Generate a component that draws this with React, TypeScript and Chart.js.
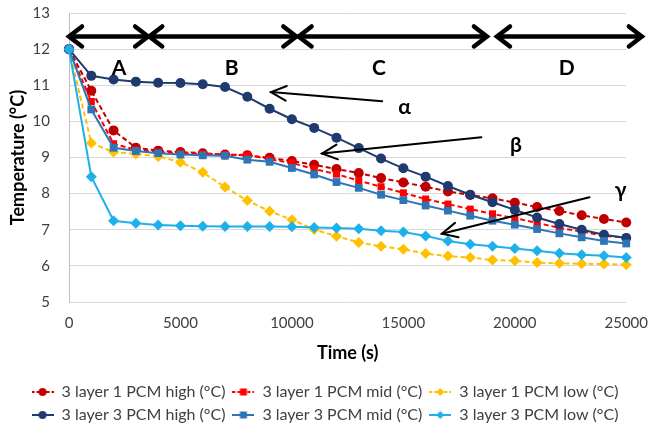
import { useEffect, useRef } from "react";
import { Chart, registerables } from "chart.js";

Chart.register(...registerables);

// Sample times (s)
const timeSeconds = [
  0, 1000, 2000, 3000, 4000, 5000, 6000, 7000, 8000, 9000, 10000, 11000, 12000,
  13000, 14000, 15000, 16000, 17000, 18000, 19000, 20000, 21000, 22000, 23000,
  24000, 25000,
];

// Temperatures (°C)
const oneLayerHigh = [
  12, 10.85, 9.75, 9.27, 9.19, 9.15, 9.12, 9.08, 9.06, 8.99, 8.9, 8.8, 8.68,
  8.57, 8.43, 8.31, 8.19, 8.06, 7.96, 7.87, 7.75, 7.63, 7.52, 7.4, 7.3, 7.2,
];
const oneLayerMid = [
  12, 10.55, 9.38, 9.21, 9.15, 9.12, 9.1, 9.08, 9.07, 8.95, 8.85, 8.68, 8.54,
  8.36, 8.19, 8.02, 7.85, 7.71, 7.57, 7.44, 7.32, 7.19, 7.05, 6.95, 6.83, 6.79,
];
const oneLayerLow = [
  12, 9.4, 9.15, 9.1, 9.03, 8.87, 8.59, 8.18, 7.81, 7.51, 7.28, 7.01, 6.82,
  6.65, 6.54, 6.46, 6.34, 6.27, 6.23, 6.16, 6.14, 6.09, 6.07, 6.06, 6.05, 6.03,
];
const threeLayerHigh = [
  12, 11.26, 11.16, 11.1, 11.07, 11.06, 11.03, 10.95, 10.68, 10.35, 10.06,
  9.82, 9.55, 9.26, 8.97, 8.7, 8.47, 8.21, 7.97, 7.76, 7.55, 7.34, 7.16, 7.0,
  6.86, 6.77,
];
const threeLayerMid = [
  12, 10.33, 9.27, 9.18, 9.12, 9.08, 9.06, 9.05, 8.94, 8.88, 8.71, 8.53, 8.32,
  8.16, 7.97, 7.82, 7.67, 7.53, 7.39, 7.25, 7.14, 7.02, 6.9, 6.79, 6.69, 6.62,
];
const threeLayerLow = [
  12, 8.47, 7.25, 7.18, 7.13, 7.11, 7.1, 7.09, 7.09, 7.09, 7.08, 7.06, 7.05,
  7.03, 6.97, 6.94, 6.83, 6.69, 6.6, 6.54, 6.48, 6.42, 6.35, 6.31, 6.28, 6.23,
];

const seriesLabels = [
  "3 layer 1 PCM high (°C)",
  "3 layer 1 PCM mid (°C)",
  "3 layer 1 PCM low (°C)",
  "3 layer 3 PCM high (°C)",
  "3 layer 3 PCM mid (°C)",
  "3 layer 3 PCM low (°C)",
];

// Phase bands drawn as double arrows above the curves (time range in s)
const phaseNames = ["A", "B", "C", "D"];
const phaseStart = [0, 3600, 10300, 19200];
const phaseEnd = [3550, 10200, 18750, 25700];
const phaseLabelTime = [2250, 7300, 13900, 22330];
const phaseArrowTemp = 12.35;
const phaseLabelTemp = 11.47;

// Greek callouts: label position, arrow tail and arrow tip (time s, temp °C)
const calloutText = ["α", "β", "γ"];
const calloutLabelTime = [15050, 20050, 24750];
const calloutLabelTemp = [10.38, 9.33, 8.1];
const calloutTailTime = [14050, 18500, 23350];
const calloutTailTemp = [10.56, 9.56, 7.9];
const calloutTipTime = [9060, 11350, 16730];
const calloutTipTemp = [10.81, 9.11, 6.89];

const FONT = "Lato, 'Liberation Sans', sans-serif";

type Style = {
  color: string;
  dashed: boolean;
  point: "circle" | "rect" | "rectRot";
  radius: number;
};

const styles: Style[] = [
  { color: "#C00000", dashed: true, point: "circle", radius: 5 },
  { color: "#FF0000", dashed: true, point: "rect", radius: 5 },
  { color: "#FFC000", dashed: true, point: "rectRot", radius: 5.5 },
  { color: "#1F3A6E", dashed: false, point: "circle", radius: 5 },
  { color: "#2E75B6", dashed: false, point: "rect", radius: 5.5 },
  { color: "#1EB0EA", dashed: false, point: "rectRot", radius: 5.5 },
];

function drawMarker(
  ctx: CanvasRenderingContext2D,
  s: Style,
  x: number,
  y: number,
  r: number
) {
  ctx.fillStyle = s.color;
  ctx.beginPath();
  if (s.point === "circle") {
    ctx.arc(x, y, r, 0, Math.PI * 2);
  } else if (s.point === "rect") {
    ctx.rect(x - r, y - r, r * 2, r * 2);
  } else {
    ctx.moveTo(x, y - r);
    ctx.lineTo(x + r, y);
    ctx.lineTo(x, y + r);
    ctx.lineTo(x - r, y);
    ctx.closePath();
  }
  ctx.fill();
}

function legendSwatch(s: Style): HTMLCanvasElement {
  const c = document.createElement("canvas");
  c.width = 22;
  c.height = 12;
  const ctx = c.getContext("2d")!;
  ctx.strokeStyle = s.color;
  ctx.lineWidth = 2;
  if (s.dashed) ctx.setLineDash([3, 2]);
  ctx.beginPath();
  ctx.moveTo(0, 6);
  ctx.lineTo(22, 6);
  ctx.stroke();
  ctx.setLineDash([]);
  drawMarker(ctx, s, 11, 6, s.point === "rect" ? 3.5 : 4);
  return c;
}

function chevron(
  ctx: CanvasRenderingContext2D,
  tipX: number,
  tipY: number,
  dir: number,
  len: number,
  half: number
) {
  ctx.beginPath();
  ctx.moveTo(tipX + dir * len, tipY - half);
  ctx.lineTo(tipX, tipY);
  ctx.lineTo(tipX + dir * len, tipY + half);
  ctx.stroke();
}

const annotationPlugin = {
  id: "phaseAnnotations",
  afterDatasetsDraw(chart: any) {
    const { ctx } = chart;
    const xs = chart.scales.x;
    const ys = chart.scales.y;
    ctx.save();
    ctx.strokeStyle = "#000";
    ctx.fillStyle = "#000";
    ctx.lineCap = "round";
    ctx.lineJoin = "miter";

    // phase double arrows
    const ay = ys.getPixelForValue(phaseArrowTemp);
    for (let i = 0; i < phaseNames.length; i++) {
      const x1 = xs.getPixelForValue(phaseStart[i]);
      const x2 = xs.getPixelForValue(phaseEnd[i]);
      ctx.lineWidth = 4.5;
      ctx.beginPath();
      ctx.moveTo(x1 + 2, ay);
      ctx.lineTo(x2 - 2, ay);
      ctx.stroke();
      chevron(ctx, x1, ay, 1, 13, 10);
      chevron(ctx, x2, ay, -1, 13, 10);
      ctx.font = `bold 21px ${FONT}`;
      ctx.textAlign = "center";
      ctx.textBaseline = "middle";
      ctx.fillText(
        phaseNames[i],
        xs.getPixelForValue(phaseLabelTime[i]),
        ys.getPixelForValue(phaseLabelTemp)
      );
    }

    // greek callouts with single arrows
    for (let i = 0; i < calloutText.length; i++) {
      const tx = xs.getPixelForValue(calloutTailTime[i]);
      const ty = ys.getPixelForValue(calloutTailTemp[i]);
      const px = xs.getPixelForValue(calloutTipTime[i]);
      const py = ys.getPixelForValue(calloutTipTemp[i]);
      ctx.lineWidth = 2;
      ctx.beginPath();
      ctx.moveTo(tx, ty);
      ctx.lineTo(px, py);
      ctx.stroke();
      const ang = Math.atan2(ty - py, tx - px);
      const len = 17;
      const spread = 0.45;
      ctx.beginPath();
      ctx.moveTo(px + len * Math.cos(ang - spread), py + len * Math.sin(ang - spread));
      ctx.lineTo(px, py);
      ctx.lineTo(px + len * Math.cos(ang + spread), py + len * Math.sin(ang + spread));
      ctx.stroke();
      ctx.font = `bold 21px ${FONT}`;
      ctx.textAlign = "center";
      ctx.textBaseline = "middle";
      ctx.fillText(
        calloutText[i],
        xs.getPixelForValue(calloutLabelTime[i]),
        ys.getPixelForValue(calloutLabelTemp[i])
      );
    }
    ctx.restore();
  },
};

export default function App() {
  const canvasRef = useRef<HTMLCanvasElement | null>(null);

  useEffect(() => {
    document.body.style.margin = "0";
    const canvas = canvasRef.current;
    if (!canvas) return;

    const allSeries = [
      oneLayerHigh,
      oneLayerMid,
      oneLayerLow,
      threeLayerHigh,
      threeLayerMid,
      threeLayerLow,
    ];

    const datasets = allSeries.map((values, i) => {
      const s = styles[i];
      return {
        label: seriesLabels[i],
        data: values.map((v, k) => ({ x: timeSeconds[k], y: v })),
        borderColor: s.color,
        backgroundColor: s.color,
        borderWidth: 2,
        borderDash: s.dashed ? [5, 3] : [],
        pointStyle: s.point,
        pointRadius: s.radius,
        pointHoverRadius: s.radius,
        pointBorderWidth: 0,
        pointBackgroundColor: s.color,
        tension: 0,
        clip: false,
        order: allSeries.length - i,
      };
    });

    const swatches = styles.map(legendSwatch);

    const chart = new Chart(canvas, {
      type: "line",
      data: { datasets },
      plugins: [annotationPlugin],
      options: {
        animation: false,
        responsive: false,
        maintainAspectRatio: false,
        layout: {
          autoPadding: false,
          padding: { left: 0, right: 0, top: 13, bottom: -4 },
        },
        scales: {
          x: {
            type: "linear",
            min: 0,
            max: 25000,
            grid: {
              display: false,
              drawTicks: true,
              tickLength: 10,
              tickColor: "rgba(0,0,0,0)",
            },
            border: { display: false },
            ticks: {
              stepSize: 5000,
              padding: 2,
              color: "#404040",
              font: { family: FONT, size: 15 },
              maxRotation: 0,
              callback: (v: any) => String(v),
            },
            title: {
              display: true,
              text: "Time (s)",
              color: "#000",
              font: { family: FONT, size: 18, weight: "bold" },
              padding: { top: 0, bottom: 13 },
            },
            afterFit: (scale: any) => {
              scale.height = 75;
            },
          },
          y: {
            min: 5,
            max: 13,
            grid: {
              color: "#D9D9D9",
              drawTicks: true,
              tickLength: 15,
              tickColor: "rgba(0,0,0,0)",
              lineWidth: 1,
            },
            border: { display: true, color: "#BFBFBF" },
            ticks: {
              stepSize: 1,
              padding: 4,
              color: "#404040",
              font: { family: FONT, size: 15 },
            },
            title: {
              display: true,
              text: "Temperature (°C)",
              color: "#000",
              font: { family: FONT, size: 18, weight: "bold" },
              padding: { top: 7, bottom: 0 },
            },
            afterFit: (scale: any) => {
              scale.width = 69;
            },
          },
        },
        plugins: {
          tooltip: { enabled: false },
          legend: {
            position: "bottom",
            labels: {
              usePointStyle: true,
              pointStyleWidth: 22,
              padding: 7,
              color: "#404040",
              font: { family: FONT, size: 16 },
              generateLabels: () =>
                seriesLabels.map((text, i) => ({
                  text,
                  pointStyle: swatches[i],
                  fillStyle: styles[i].color,
                  strokeStyle: styles[i].color,
                  lineWidth: 0,
                  hidden: false,
                  datasetIndex: i,
                  fontColor: "#404040",
                })),
            },
          },
        },
      },
    } as any);

    return () => chart.destroy();
  }, []);

  return (
    <div style={{ width: 650, height: 429, background: "#fff" }}>
      <canvas ref={canvasRef} width={650} height={429} />
    </div>
  );
}
